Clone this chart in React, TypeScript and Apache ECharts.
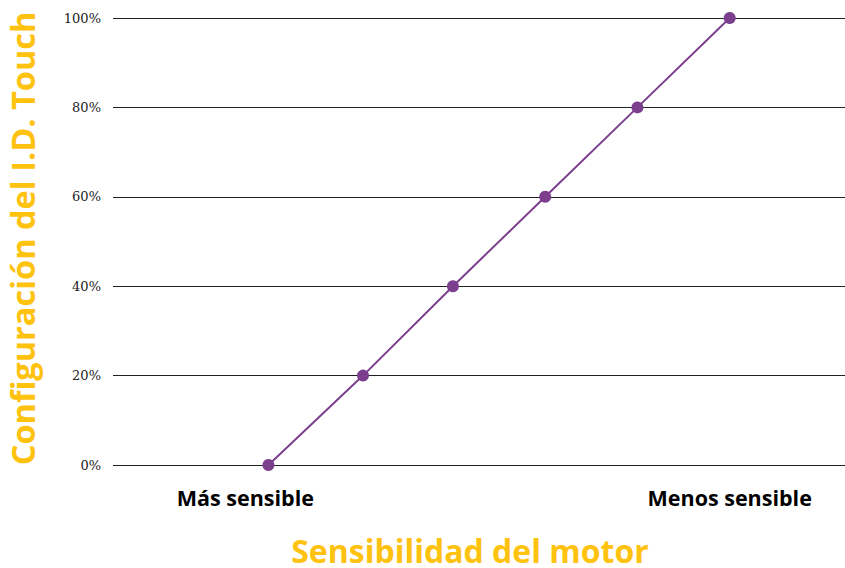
import React, { useEffect, useRef } from "react";
import * as echarts from "echarts";

const sensitivityPos = [0, 20.5, 40, 60, 80, 100];
const configValues = [0, 20, 40, 60, 80, 100];
const endLabelPositions = [-5, 100];
const endLabels: Record<string, string> = { "-5": "Más sensible", "100": "Menos sensible" };
const yTicks = [0, 20, 40, 60, 80, 100];
const xTitle = "Sensibilidad del motor";
const yTitle = "Configuración del I.D. Touch";

const YELLOW = "#FFC20E";
const PURPLE = "#7B3F8E";
const TITLE_FONT = "'Open Sans', 'Noto Sans', sans-serif";

export default function App() {
  const ref = useRef<HTMLDivElement>(null);
  useEffect(() => {
    if (!ref.current) return;
    const chart = echarts.init(ref.current, null, { renderer: "svg" });
    chart.setOption({
      animation: false,
      grid: { left: 113, right: 0, top: 18, bottom: 103, containLabel: false, outerBoundsMode: "none" },
      xAxis: {
        type: "value",
        min: -33.7,
        max: 125,
        name: xTitle,
        nameLocation: "middle",
        nameGap: 71,
        nameTextStyle: {
          color: YELLOW,
          fontSize: 32,
          lineHeight: 28,
          fontWeight: "bold",
          fontFamily: TITLE_FONT,
          verticalAlign: "top",
          padding: [0, 18, 0, 0],
        },
        axisLine: { show: false },
        axisTick: { show: false },
        splitLine: { show: false },
        axisLabel: {
          customValues: endLabelPositions,
          formatter: (v: number) => endLabels[String(v)] ?? "",
          color: "#000",
          fontSize: 21.5,
          fontWeight: "bold",
          fontFamily: TITLE_FONT,
          margin: 21,
        },
      },
      yAxis: {
        type: "value",
        min: 0,
        max: 100,
        interval: 20,
        name: yTitle,
        nameLocation: "middle",
        nameGap: 74,
        nameRotate: 90,
        nameTextStyle: {
          color: YELLOW,
          fontSize: 32.5,
          lineHeight: 34,
          fontWeight: "bold",
          fontFamily: TITLE_FONT,
          padding: [0, 0, 0, 6],
        },
        axisLine: { show: false },
        axisTick: { show: false },
        axisLabel: {
          customValues: yTicks,
          formatter: (v: number) => `${v}%`,
          color: "#222",
          fontSize: 13,
          fontFamily: "'DejaVu Serif', 'Liberation Serif', serif",
          margin: 12,
        },
        splitLine: { show: true, lineStyle: { color: "#222", width: 1 } },
      },
      series: [
        {
          type: "line",
          data: sensitivityPos.map((x, i) => [x, configValues[i]]),
          symbol: "circle",
          symbolSize: 12,
          itemStyle: { color: PURPLE },
          lineStyle: { color: PURPLE, width: 2 },
        },
      ],
    });
    return () => chart.dispose();
  }, []);
  return (
    <div
      ref={ref}
      style={{ position: "fixed", left: 0, top: 0, width: 845, height: 568, background: "#fff" }}
    />
  );
}
